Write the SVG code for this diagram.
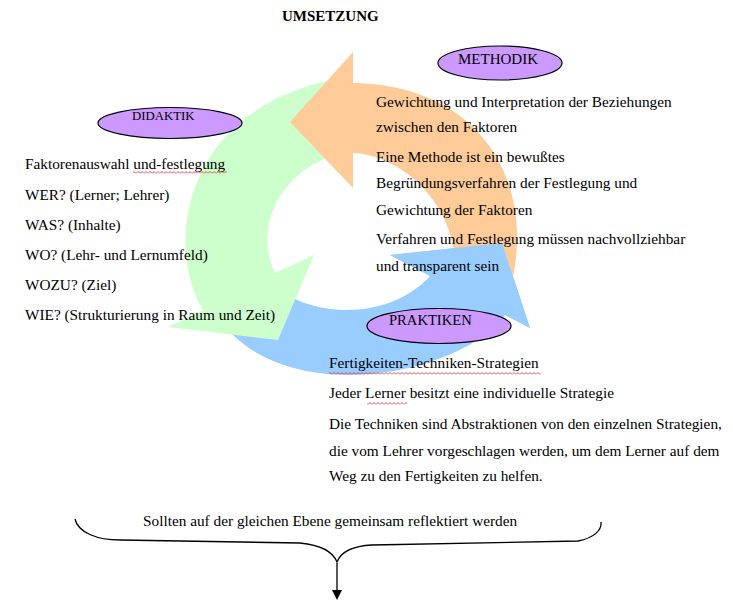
<svg xmlns="http://www.w3.org/2000/svg" width="733" height="601" viewBox="0 0 733 601">
<defs>
<style>
.t{font-family:"Liberation Serif","Times New Roman",serif;font-size:15.3px;fill:#000}
.lab{font-family:"Liberation Serif","Times New Roman",serif;fill:#000}
.oval{fill:#CC99FF;stroke:#000;stroke-width:1.2}
.g{fill:#CCFFCC}
.o{fill:#FFCC99}
.b{fill:#99CCFF}
.ln{fill:none;stroke:#000;stroke-width:1.3}
</style>
<pattern id="wave" width="4" height="3" patternUnits="userSpaceOnUse">
<path d="M0,2.5 L2,0.5 L4,2.5" fill="none" stroke="#E02020" stroke-width="0.8"/>
</pattern>
</defs>
<rect width="733" height="601" fill="#fff"/>
<g id="connectors">
<path id="arrow-blue" class="b" d="M390,255 L502,243 L530,328 L505,315 C460,375 300,405 230,332 L290,296 C320,315 390,320 430,276 Z"/>
<path id="arrow-green" class="g" d="M314,255 L278,340 L168,327 L203,310 C165,250 180,110 333,80 L338,155 C290,165 250,220 275,273 Z"/>
<path id="arrow-orange" class="o" d="M353,52 L290,122 L353,188 L353,153 C400,155 450,200 455,258 L512,282 C535,180 480,85 353,83 Z"/>
<path id="arrow-blue-head" class="b" d="M390,255 L502,243 L530,328 Z"/>
<path id="brace" class="ln" d="M75,519 C78,533 98,540 120,540 L300,543 C320,545 333,552 337,562 C341,552 352,546 372,545 L578,541 C594,538 602,530 601,522"/>
<line class="ln" x1="337" y1="563" x2="337" y2="592"/>
<polygon points="332,590 342,590 337,600" fill="#000"/>
</g>
<g id="title">
<text class="lab" x="282" y="21" font-size="15" font-weight="bold">UMSETZUNG</text>
</g>
<g id="didaktik">
<ellipse class="oval" cx="170" cy="123" rx="72" ry="15.5"/>
<text class="lab" x="132" y="120" font-size="12.8">DIDAKTIK</text>
<text class="t" x="25" y="169">Faktorenauswahl und-festlegung</text>
<rect x="133" y="171" width="94" height="3" fill="url(#wave)"/>
<text class="t" x="25" y="200">WER? (Lerner; Lehrer)</text>
<text class="t" x="25" y="230">WAS? (Inhalte)</text>
<text class="t" x="25" y="260">WO? (Lehr- und Lernumfeld)</text>
<text class="t" x="25" y="290">WOZU? (Ziel)</text>
<text class="t" x="25" y="320">WIE? (Strukturierung in Raum und Zeit)</text>
</g>
<g id="methodik">
<ellipse class="oval" cx="500" cy="63" rx="62" ry="17"/>
<text class="lab" x="458" y="64" font-size="15">METHODIK</text>
<text class="t" x="376" y="107">Gewichtung und Interpretation der Beziehungen</text>
<text class="t" x="376" y="132">zwischen den Faktoren</text>
<text class="t" x="376" y="162">Eine Methode ist ein bewußtes</text>
<text class="t" x="376" y="188">Begründungsverfahren der Festlegung und</text>
<text class="t" x="376" y="215">Gewichtung der Faktoren</text>
<text class="t" x="376" y="244">Verfahren und Festlegung müssen nachvollziehbar</text>
<text class="t" x="376" y="271">und transparent sein</text>
</g>
<g id="praktiken">
<ellipse class="oval" cx="439" cy="326" rx="72" ry="17.5"/>
<text class="lab" x="389" y="325" font-size="14.6">PRAKTIKEN</text>
<text class="t" x="329" y="368">Fertigkeiten-Techniken-Strategien</text>
<rect x="329" y="372" width="212" height="3" fill="url(#wave)"/>
<text class="t" x="329" y="398">Jeder Lerner besitzt eine individuelle Strategie</text>
<rect x="367" y="402" width="40" height="3" fill="url(#wave)"/>
<text class="t" x="329" y="429">Die Techniken sind Abstraktionen von den einzelnen Strategien,</text>
<text class="t" x="329" y="456">die vom Lehrer vorgeschlagen werden, um dem Lerner auf dem</text>
<text class="t" x="329" y="481">Weg zu den Fertigkeiten zu helfen.</text>
</g>
<g id="summary">
<text class="t" x="143" y="526">Sollten auf der gleichen Ebene gemeinsam reflektiert werden</text>
</g>
</svg>
